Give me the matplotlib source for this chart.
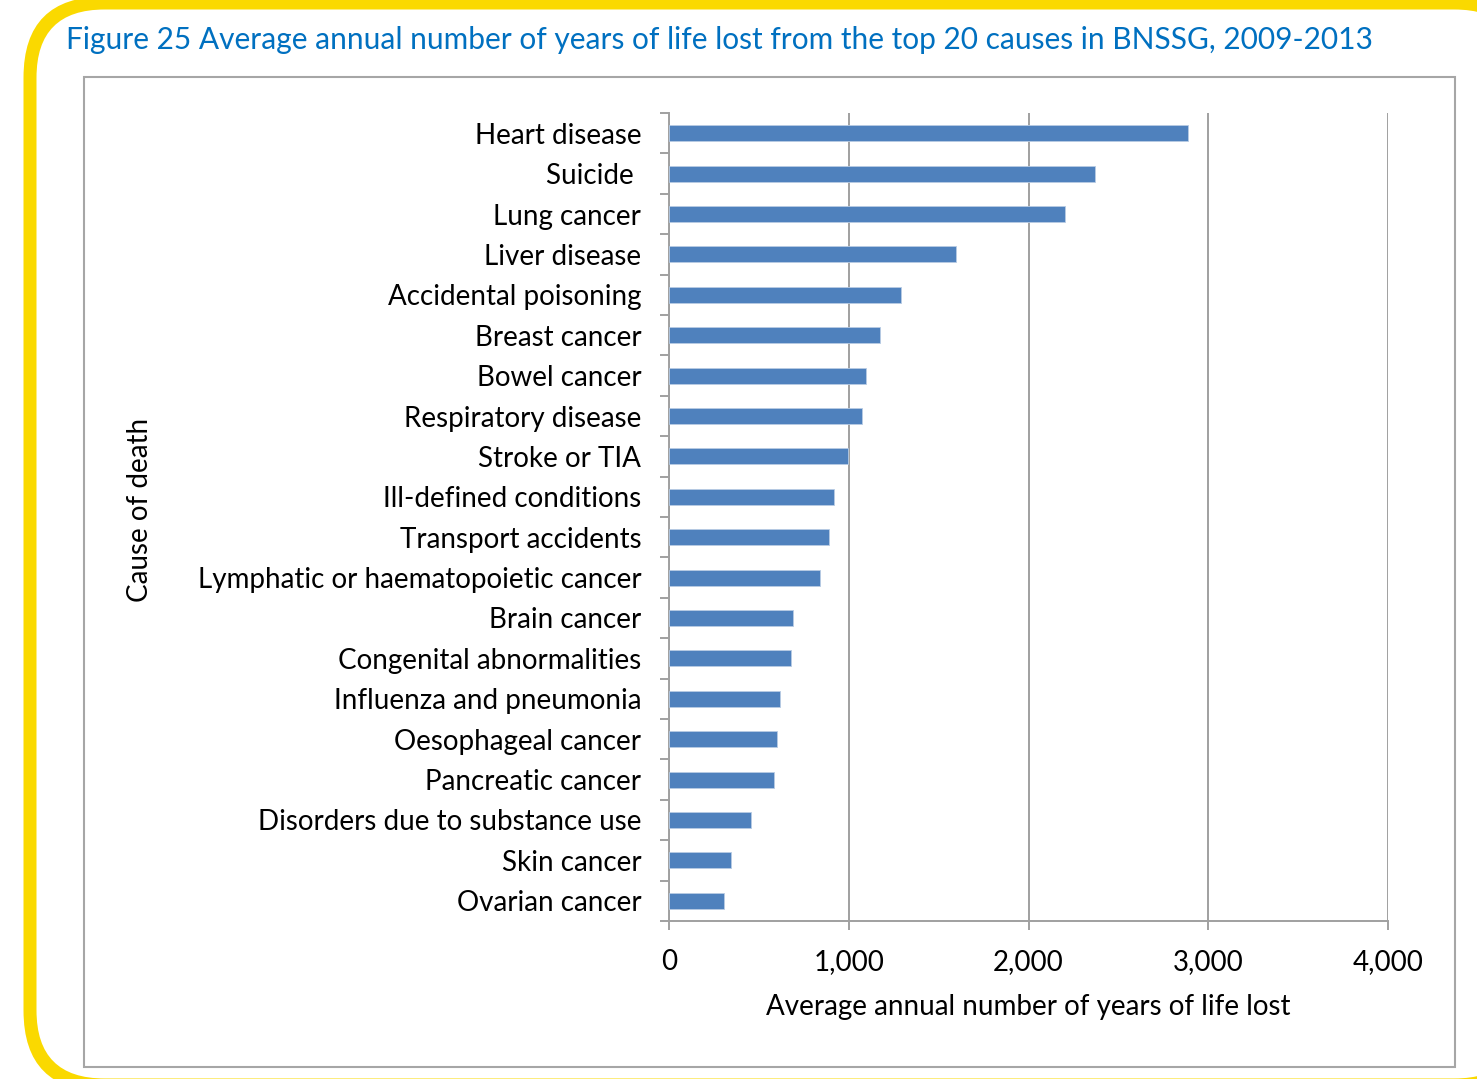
import matplotlib.pyplot as plt
from matplotlib.patches import FancyBboxPatch, Rectangle
from matplotlib.ticker import FixedLocator, FuncFormatter

# -- data (top to bottom)
causes = [
    'Heart disease', 'Suicide ', 'Lung cancer', 'Liver disease',
    'Accidental poisoning', 'Breast cancer', 'Bowel cancer',
    'Respiratory disease', 'Stroke or TIA', 'Ill-defined conditions',
    'Transport accidents', 'Lymphatic or haematopoietic cancer',
    'Brain cancer', 'Congenital abnormalities', 'Influenza and pneumonia',
    'Oesophageal cancer', 'Pancreatic cancer',
    'Disorders due to substance use', 'Skin cancer', 'Ovarian cancer',
]
years_lost = [
    2890, 2368, 2201, 1598, 1292, 1172, 1097, 1076, 998, 919,
    889, 839, 690, 681, 616, 600, 582, 458, 347, 305,
]
x_ticks = [0, 1000, 2000, 3000, 4000]

title = 'Figure 25 Average annual number of years of life lost from the top 20 causes in BNSSG, 2009-2013'

bar_color = '#4f81bd'
grid_color = '#a0a0a0'
W, H = 1477, 1079

plt.rcParams['font.family'] = ['Lato', 'DejaVu Sans']

fig = plt.figure(figsize=(W / 100, H / 100), dpi=100)

# -- page decoration (pixel coords, y up): yellow rounded frame drawn as
# a filled yellow box with a filled white box on top, then grey chart box.
# The frame runs off the right edge of the page, only its corners show.
bg = fig.add_axes([0, 0, 1, 1], zorder=-1)
bg.set_xlim(0, W)
bg.set_ylim(0, H)
bg.axis('off')
bg.add_patch(FancyBboxPatch((23.5, H - 1091.5), 1512, 1095,
                            boxstyle='round,pad=0,rounding_size=81',
                            facecolor='#fad900', edgecolor='none',
                            clip_on=False))
bg.add_patch(FancyBboxPatch((36.5, H - 1078.5), 1486, 1069,
                            boxstyle='round,pad=0,rounding_size=68',
                            facecolor='white', edgecolor='none',
                            clip_on=False))
bg.add_patch(Rectangle((84, H - 1067), 1371, 990, fill=False,
                       edgecolor='#a6a6a6', linewidth=1.5, clip_on=False))

fig.text(66 / W, 1 - 40 / H, title, color='#0070c0', fontsize=21.5,
         ha='left', va='center')

# -- the bar chart
ax = fig.add_axes([669 / W, 158 / H, 719 / W, 808 / H])
ax.patch.set_alpha(0)
pos = list(range(len(causes)))
ax.barh(pos, years_lost, height=0.4, color=bar_color,
        edgecolor='#b8cce4', linewidth=0.6, zorder=3)

ax.set_xlim(0, 4000)
ax.set_ylim(len(causes) - 0.5, -0.5)

ax.xaxis.set_major_locator(FixedLocator(x_ticks))
ax.xaxis.set_major_formatter(FuncFormatter(lambda v, p: f'{int(v):,}'))
ax.grid(axis='x', color=grid_color, linewidth=1.4, zorder=0)
ax.tick_params(axis='x', length=6.5, width=1.4, color=grid_color,
               labelsize=20, pad=14)

ax.set_yticks(pos)
ax.set_yticklabels(causes, fontsize=20)
ax.set_yticks([p - 0.5 for p in pos] + [len(causes) - 0.5], minor=True)
ax.tick_params(axis='y', which='major', length=0, pad=20)
ax.tick_params(axis='y', which='minor', length=6.5, width=1.4,
               color=grid_color)

for side in ['top', 'right']:
    ax.spines[side].set_visible(False)
for side in ['left', 'bottom']:
    ax.spines[side].set_color(grid_color)
    ax.spines[side].set_linewidth(1.4)

ax.set_xlabel('Average annual number of years of life lost', fontsize=20,
              labelpad=13)
fig.text(140 / W, 1 - 510 / H, 'Cause of death', fontsize=20,
         rotation=90, ha='center', va='center')

fig.savefig('out.png', dpi=100)
